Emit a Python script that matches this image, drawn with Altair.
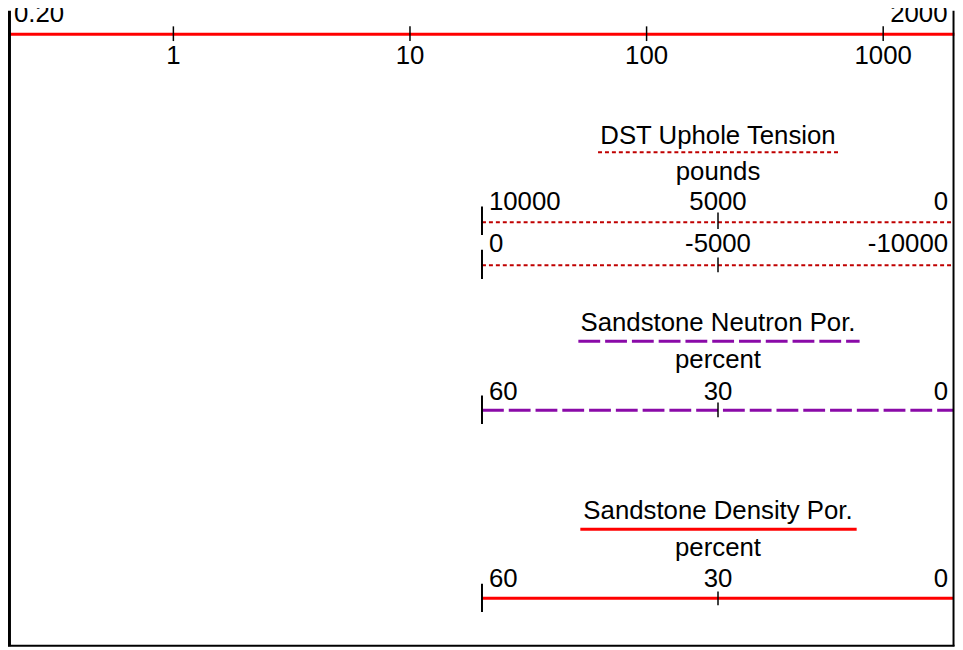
import altair as alt
import pandas as pd

# ---------------- data ----------------
log_ticks = [1, 10, 100, 1000]
log_tick_labels = ["1", "10", "100", "1000"]
log_ends = [0.2, 2000]
log_end_labels = ["0.20", "2000"]

dst_row1 = [10000, 5000, 0]
dst_row1_labels = ["10000", "5000", "0"]
dst_row2 = [0, -5000, -10000]
dst_row2_labels = ["0", "-5000", "-10000"]
neutron_vals = [60, 30, 0]
neutron_labels = ["60", "30", "0"]
density_vals = [60, 30, 0]
density_labels = ["60", "30", "0"]

track_titles = ["DST Uphole Tension", "Sandstone Neutron Por.", "Sandstone Density Por."]
track_units = ["pounds", "percent", "percent"]

# ---------------- layout helpers ----------------
W, H = 955, 642
SX, SY = W / 963.0, H / 650.0


def X(v):
    return v * SX


def Y(v):
    return v * SY


FONT = "Liberation Sans"
FS = 26
BLACK = "#000000"
RED = "#ff0000"
DARKRED = "#c00000"
PURPLE = "#8a0aa8"

layers = []

# ---------------- top log track ----------------
log_scale = alt.Scale(type="log", domain=log_ends, range=[X(0), X(962.4)], nice=False)
log_line_df = pd.DataFrame({"a": [log_ends[0]], "b": [log_ends[1]]})
layers.append(
    alt.Chart(log_line_df).mark_rule(color=RED, strokeWidth=3).encode(
        x=alt.X("a:Q", scale=log_scale, axis=None), x2="b:Q", y=alt.value(Y(24))
    )
)
tick_df = pd.DataFrame({"v": log_ticks, "lab": log_tick_labels})
layers.append(
    alt.Chart(tick_df).mark_rule(color=BLACK, strokeWidth=1.5).encode(
        x=alt.X("v:Q", scale=log_scale, axis=None), y=alt.value(Y(16)), y2=alt.value(Y(31))
    )
)
layers.append(
    alt.Chart(tick_df).mark_text(font=FONT, fontSize=FS, baseline="alphabetic", align="center", color=BLACK).encode(
        x=alt.X("v:Q", scale=log_scale, axis=None), y=alt.value(Y(54)), text="lab:N"
    )
)
end_df = pd.DataFrame({"v": log_ends, "lab": log_end_labels})
layers.append(
    alt.Chart(end_df.iloc[[0]]).mark_text(font=FONT, fontSize=FS, baseline="alphabetic", align="left", dx=6, color=BLACK).encode(
        x=alt.X("v:Q", scale=log_scale, axis=None), y=alt.value(Y(12)), text="lab:N"
    )
)
layers.append(
    alt.Chart(end_df.iloc[[1]]).mark_text(font=FONT, fontSize=FS, baseline="alphabetic", align="right", dx=-7, color=BLACK).encode(
        x=alt.X("v:Q", scale=log_scale, axis=None), y=alt.value(Y(12)), text="lab:N"
    )
)


# ---------------- linear tracks ----------------
def scale_row(vals, labels, line_y, label_y, bar_y, tick_y, color, dash, width):
    sc = alt.Scale(domain=[vals[0], vals[-1]], range=[X(482), X(962)], nice=False, zero=False)
    df = pd.DataFrame({"v": vals, "lab": labels})
    out = []
    line_df = pd.DataFrame({"a": [vals[0]], "b": [vals[-1]]})
    kw = dict(color=color, strokeWidth=width)
    if dash:
        kw["strokeDash"] = dash
    out.append(
        alt.Chart(line_df).mark_rule(**kw).encode(
            x=alt.X("a:Q", scale=sc, axis=None), x2="b:Q", y=alt.value(Y(line_y))
        )
    )
    out.append(
        alt.Chart(df.iloc[[0]]).mark_rule(color=BLACK, strokeWidth=2).encode(
            x=alt.X("v:Q", scale=sc, axis=None), y=alt.value(Y(bar_y[0])), y2=alt.value(Y(bar_y[1]))
        )
    )
    out.append(
        alt.Chart(df.iloc[[1]]).mark_rule(color=BLACK, strokeWidth=1.5).encode(
            x=alt.X("v:Q", scale=sc, axis=None), y=alt.value(Y(tick_y[0])), y2=alt.value(Y(tick_y[1]))
        )
    )
    for idx, al, dx in [(0, "left", 7), (1, "center", 0), (2, "right", -6)]:
        out.append(
            alt.Chart(df.iloc[[idx]]).mark_text(font=FONT, fontSize=FS, baseline="alphabetic", align=al, dx=dx, color=BLACK).encode(
                x=alt.X("v:Q", scale=sc, axis=None), y=alt.value(Y(label_y)), text="lab:N"
            )
        )
    return out


def title_block(title, unit, title_y, ul_y, ul_x, unit_y, color, dash, width):
    out = []
    tdf = pd.DataFrame({"t": [title], "u": [unit]})
    out.append(
        alt.Chart(tdf).mark_text(font=FONT, fontSize=FS, baseline="alphabetic", align="center", color=BLACK).encode(
            x=alt.value(X(722)), y=alt.value(Y(title_y)), text="t:N"
        )
    )
    out.append(
        alt.Chart(tdf).mark_text(font=FONT, fontSize=FS, baseline="alphabetic", align="center", color=BLACK).encode(
            x=alt.value(X(722)), y=alt.value(Y(unit_y)), text="u:N"
        )
    )
    kw = dict(color=color, strokeWidth=width)
    if dash:
        kw["strokeDash"] = dash
    out.append(
        alt.Chart(tdf).mark_rule(**kw).encode(
            x=alt.value(X(ul_x[0])), x2=alt.value(X(ul_x[1])), y=alt.value(Y(ul_y))
        )
    )
    return out


# DST Uphole Tension
layers += title_block(track_titles[0], track_units[0], 136, 144.5, (600, 847), 173, DARKRED, [4, 3], 2)
layers += scale_row(dst_row1, dst_row1_labels, 216, 204, (200, 229), (206, 223), DARKRED, [4, 3], 2)
layers += scale_row(dst_row2, dst_row2_labels, 260, 246, (244, 274), (252, 267), DARKRED, [4, 3], 2)

# Sandstone Neutron Por.
layers += title_block(track_titles[1], track_units[1], 327, 337.5, (580, 866), 365, PURPLE, [22, 5], 3)
layers += scale_row(neutron_vals, neutron_labels, 408, 397, (393, 422), (400, 415), PURPLE, [22, 5], 3)

# Sandstone Density Por.
layers += title_block(track_titles[2], track_units[2], 519, 529.5, (582, 863), 557, RED, None, 3)
layers += scale_row(density_vals, density_labels, 600, 588, (585, 614), (593, 607), RED, None, 3)

# ---------------- frame ----------------
frame_df = pd.DataFrame({"k": [0]})
layers.append(
    alt.Chart(frame_df).mark_rule(color=BLACK, strokeWidth=3).encode(
        x=alt.value(X(1.5)), y=alt.value(0), y2=alt.value(Y(649))
    )
)
layers.append(
    alt.Chart(frame_df).mark_rule(color=BLACK, strokeWidth=2).encode(
        x=alt.value(X(961.5)), y=alt.value(0), y2=alt.value(Y(649))
    )
)
layers.append(
    alt.Chart(frame_df).mark_rule(color=BLACK, strokeWidth=2).encode(
        x=alt.value(0), x2=alt.value(X(962.5)), y=alt.value(Y(648.5))
    )
)

chart = (
    alt.layer(*layers)
    .resolve_scale(x="independent")
    .properties(width=W, height=H, autosize=alt.AutoSizeParams(type="none"), padding=0, background="white")
    .configure_view(stroke=None)
)

chart.save("out.html", embed_options={"renderer": "svg", "actions": False})
